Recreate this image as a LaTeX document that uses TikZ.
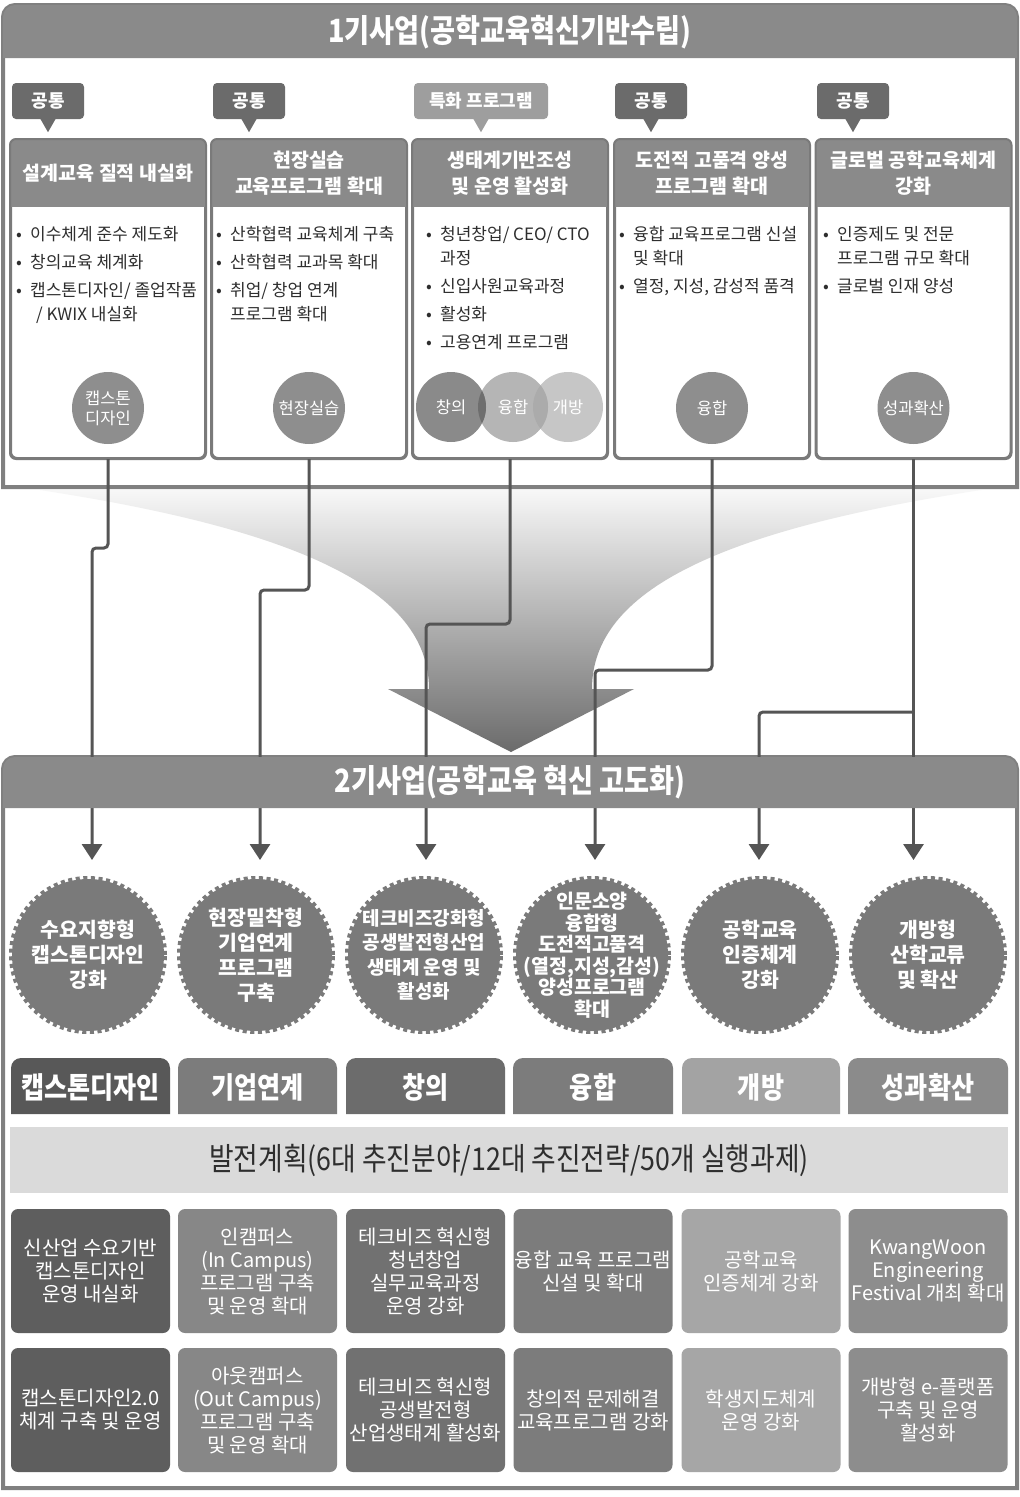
\documentclass[tikz,border=0pt]{standalone}
\usepackage{fontspec}
\setmainfont{Noto Sans CJK KR}
\newfontfamily\condf[FakeStretch=0.85]{Noto Sans CJK KR}
\usetikzlibrary{arrows.meta}

\definecolor{panelc}{HTML}{808080}
\definecolor{barc}{HTML}{8A8A8A}
\definecolor{tagc}{HTML}{6B6B6B}
\definecolor{tagl}{HTML}{9E9E9E}
\definecolor{hdrc}{HTML}{8A8A8A}
\definecolor{boxline}{HTML}{7A7A7A}
\definecolor{textc}{HTML}{2E2E2E}
\definecolor{circc}{HTML}{8E8E8E}
\definecolor{connc}{HTML}{555555}
\definecolor{stampc}{HTML}{7A7A7A}
\definecolor{vA}{HTML}{8A8A8A}
\definecolor{vB}{HTML}{B5B5B5}
\definecolor{vC}{HTML}{C6C6C6}
\definecolor{vAB}{HTML}{6E6E6E}
\definecolor{vBC}{HTML}{ABABAB}
\definecolor{tA}{HTML}{585858}
\definecolor{tB}{HTML}{7C7C7C}
\definecolor{tC}{HTML}{6C6C6C}
\definecolor{tD}{HTML}{7C7C7C}
\definecolor{tE}{HTML}{A3A3A3}
\definecolor{tF}{HTML}{8B8B8B}
\definecolor{pA}{HTML}{5E5E5E}
\definecolor{pB}{HTML}{878787}
\definecolor{pC}{HTML}{717171}
\definecolor{pD}{HTML}{7C7C7C}
\definecolor{pE}{HTML}{A6A6A6}
\definecolor{pF}{HTML}{8D8D8D}
\definecolor{bannerc}{HTML}{DADADA}

% top-rounded rectangle: x1, ytop, x2, ybottom, radius, options
\newcommand\toprect[6]{%
  \path[#6] (#1,#4) -- (#1,{#2+#5}) .. controls (#1,{#2+0.45*#5}) and ({#1+0.45*#5},#2) .. ({#1+#5},#2)
   -- ({#3-#5},#2) .. controls ({#3-0.45*#5},#2) and (#3,{#2+0.45*#5}) .. (#3,{#2+#5}) -- (#3,#4) -- cycle;}
\newcommand\bl{\makebox[14pt][l]{•}}
\newcommand\ind{\hspace*{14pt}}

\begin{document}
\begin{tikzpicture}[x=1pt,y=-1pt,
  colbox/.style={draw=boxline, line width=2pt, fill=white, rounded corners=6pt, inner sep=0,
     minimum width=194pt, minimum height=318pt},
  hdrtext/.style={text=white, font=\bfseries\fontsize{19.5}{26}\selectfont, align=center},
  bul/.style={text=textc, font=\fontsize{17}{24}\selectfont, align=left, inner sep=0, anchor=north west},
  tagbox/.style={fill=tagc, rounded corners=4pt, text=white, font=\bfseries\fontsize{18}{20}\selectfont,
     minimum height=36pt, minimum width=72pt, inner sep=0},
  smallcirc/.style={circle, fill=circc, minimum size=72pt, inner sep=0, text=white,
     font=\fontsize{16.5}{20}\selectfont, align=center},
  vcirc/.style={circle, minimum size=70pt, inner sep=0},
  vtext/.style={text=white, font=\fontsize{16.5}{20}\selectfont},
  stamp/.style={circle, fill=stampc, draw=stampc, line width=6pt, dash pattern=on 4pt off 3.5pt,
     minimum size=152pt, inner sep=0},
  stamptext/.style={text=white, font=\bfseries\fontsize{20.5}{25}\selectfont, align=center},
  conn/.style={draw=connc, line width=3pt, rounded corners=4pt, -{Triangle[width=20pt,length=16pt]}},
  bartext/.style={text=white, font=\condf\bfseries\fontsize{32}{34}\selectfont},
  tabtext/.style={text=white, font=\condf\bfseries\fontsize{29.5}{32}\selectfont},
  plan/.style={rounded corners=7pt, minimum width=159pt, minimum height=124pt, text=white,
     font=\fontsize{20}{23}\selectfont, align=center, inner sep=0}
]
\useasboundingbox (0,0) rectangle (1020,1497);
\fill[white] (0,0) rectangle (1020,1497);

% ---------- panel 1 ----------
\toprect{3}{5}{1017}{487}{12}{fill=white, draw=panelc, line width=4pt}
\toprect{3}{5}{1017}{58}{12}{fill=barc}
\node[bartext] (title1) at (510,32) {1기사업(공학교육혁신기반수립)};

% tags
\node[tagbox] (tg1) at (48,101) {공통};
\node[tagbox] (tg2) at (249,101) {공통};
\node[tagbox, fill=tagl, minimum width=134pt] (tg3) at (481,101) {특화 프로그램};
\node[tagbox] (tg4) at (651,101) {공통};
\node[tagbox] (tg5) at (853,101) {공통};
\foreach \t/\c in {tg1/tagc,tg2/tagc,tg3/tagl,tg4/tagc,tg5/tagc}
  \fill[\c] ([xshift=-8pt,yshift=1pt]\t.south) -- ([xshift=8pt,yshift=1pt]\t.south) -- ([yshift=-13pt]\t.south) -- cycle;

% column boxes
\foreach \n/\x in {col1/108, col2/309, col3/510, col4/712, col5/913.5}{
  \node[colbox] (\n) at (\x,299) {};
  \begin{scope}
    \clip[rounded corners=6pt] (\n.south west) rectangle (\n.north east);
    \fill[hdrc] (\n.north west) rectangle ([yshift=-68pt]\n.north east);
  \end{scope}
  \draw[draw=boxline, line width=2pt, rounded corners=6pt] (\n.south west) rectangle (\n.north east);
}
\node[hdrtext] (h1) at ([yshift=-34pt]col1.north) {설계교육 질적 내실화};
\node[hdrtext] (h2) at ([yshift=-34pt]col2.north) {현장실습\\교육프로그램 확대};
\node[hdrtext] (h3) at ([yshift=-34pt]col3.north) {생태계기반조성\\및 운영 활성화};
\node[hdrtext] (h4) at ([yshift=-34pt]col4.north) {도전적 고품격 양성\\프로그램 확대};
\node[hdrtext] (h5) at ([yshift=-34pt]col5.north) {글로벌 공학교육체계\\강화};

\node[bul] (b1) at (16,226) {\bl 이수체계 준수 제도화\\[4pt]\bl 창의교육 체계화\\[4pt]\bl 캡스톤디자인/ 졸업작품\\\ind\hspace*{6pt}/ KWIX 내실화};
\node[bul] (b2) at (216,226) {\bl 산학협력 교육체계 구축\\[4pt]\bl 산학협력 교과목 확대\\[4pt]\bl 취업/ 창업 연계\\\ind 프로그램 확대};
\node[bul] (b3) at (426,226) {\bl 청년창업/ CEO/ CTO\\\ind 과정\\[4pt]\bl 신입사원교육과정\\[4pt]\bl 활성화\\[4pt]\bl 고용연계 프로그램};
\node[bul] (b4) at (619,226) {\bl 융합 교육프로그램 신설\\\ind 및 확대\\[4pt]\bl 열정, 지성, 감성적 품격};
\node[bul] (b5) at (823,226) {\bl 인증제도 및 전문\\\ind 프로그램 규모 확대\\[4pt]\bl 글로벌 인재 양성};

% small circles
\node[smallcirc] (k1) at (108,408) {캡스톤\\디자인};
\node[smallcirc] (k2) at (309,408) {현장실습};
\node[smallcirc] (k4) at (712,408) {융합};
\node[smallcirc] (k5) at (913.5,408) {성과확산};
\node[vcirc, fill=vC] (v3) at (568,407) {};
\node[vcirc, fill=vB] (v2) at (513,407) {};
\begin{scope}\clip (568,407) circle[radius=35]; \fill[vBC] (513,407) circle[radius=35];\end{scope}
\node[vcirc, fill=vA] (v1) at (451,407) {};
\begin{scope}\clip (451,407) circle[radius=35]; \fill[vAB] (513,407) circle[radius=35];\end{scope}
\node[vtext] (vt1) at (v1) {창의};
\node[vtext] (vt2) at (v2) {융합};
\node[vtext] (vt3) at (v3) {개방};

% ---------- panel 2 background ----------
\toprect{3}{757}{1017}{1488}{12}{fill=white, draw=panelc, line width=4pt}

% funnel
\shade[top color=black!3, bottom color=black!58]
  (40,490) .. controls (300,530) and (429,590) .. (429,689) -- (388,689) -- (511,752) -- (634,689)
  -- (592,689) .. controls (592,590) and (721,530) .. (981,490) -- cycle;

% connectors
\coordinate (a1) at (92,860);
\coordinate (a2) at (260,860);
\coordinate (a3) at (426,860);
\coordinate (a4) at (595,860);
\coordinate (a5) at (759,860);
\coordinate (a6) at (913.5,860);
\coordinate (b5) at (913.5,712);
\draw[conn] (col1.south) |- (92,548) -- (a1);
\draw[conn] (col2.south) |- (260,590) -- (a2);
\draw[conn] (col3.south) |- (426,624) -- (a3);
\draw[conn] (col4.south) |- (595,670) -- (a4);
\draw[conn] (col5.south) -- (a6);
\draw[conn] (b5) -| (a5);

% panel 2 title bar
\toprect{3}{757}{1017}{808}{12}{fill=barc}
\node[bartext] (title2) at (510,782) {2기사업(공학교육 혁신 고도화)};

% stamps
\foreach \n/\x in {s1/88, s2/256, s3/424, s4/592, s5/760, s6/928}
  \node[stamp] (\n) at (\x,955) {};
\node[stamptext] (st1) at (s1) {수요지향형\\캡스톤디자인\\강화};
\node[stamptext] (st2) at (s2) {현장밀착형\\기업연계\\프로그램\\구축};
\node[stamptext, font=\bfseries\fontsize{19}{24.5}\selectfont] (st3) at (s3) {테크비즈강화형\\공생발전형산업\\생태계 운영 및\\활성화};
\node[stamptext, font=\bfseries\fontsize{19.5}{21.5}\selectfont] (st4) at (s4) {인문소양\\융합형\\도전적고품격\\(열정,지성,감성)\\양성프로그램\\확대};
\node[stamptext] (st5) at (s5) {공학교육\\인증체계\\강화};
\node[stamptext] (st6) at (s6) {개방형\\산학교류\\및 확산};

% tabs
\toprect{11}{1058}{170}{1114}{10}{fill=tA}
\toprect{178}{1058}{337}{1114}{10}{fill=tB}
\toprect{346}{1058}{505}{1114}{10}{fill=tC}
\toprect{513}{1058}{673}{1114}{10}{fill=tD}
\toprect{682}{1058}{840}{1114}{10}{fill=tE}
\toprect{848}{1058}{1008}{1114}{10}{fill=tF}
\node[tabtext] (tab1) at (90.5,1087) {캡스톤디자인};
\node[tabtext] (tab2) at (257.5,1087) {기업연계};
\node[tabtext] (tab3) at (425.5,1087) {창의};
\node[tabtext] (tab4) at (593,1087) {융합};
\node[tabtext] (tab5) at (761,1087) {개방};
\node[tabtext] (tab6) at (928,1087) {성과확산};

% banner
\node[fill=bannerc, minimum width=998pt, minimum height=66pt, inner sep=0, text=textc,
  font=\condf\fontsize{31.5}{34}\selectfont] (banner) at (509,1160) {발전계획(6대 추진분야/12대 추진전략/50개 실행과제)};

% plan boxes
\node[plan, fill=pA] (p11) at (90.5,1271) {신산업 수요기반\\캡스톤디자인\\운영 내실화};
\node[plan, fill=pB] (p12) at (257.5,1271) {인캠퍼스\\(In Campus)\\프로그램 구축\\및 운영 확대};
\node[plan, fill=pC] (p13) at (425.5,1271) {테크비즈 혁신형\\청년창업\\실무교육과정\\운영 강화};
\node[plan, fill=pD] (p14) at (593,1271) {융합 교육 프로그램\\신설 및 확대};
\node[plan, fill=pE] (p15) at (761,1271) {공학교육\\인증체계 강화};
\node[plan, fill=pF] (p16) at (928,1271) {KwangWoon\\Engineering\\Festival 개최 확대};
\node[plan, fill=pA] (p21) at (90.5,1410) {캡스톤디자인2.0\\체계 구축 및 운영};
\node[plan, fill=pB] (p22) at (257.5,1410) {아웃캠퍼스\\(Out Campus)\\프로그램 구축\\및 운영 확대};
\node[plan, fill=pC] (p23) at (425.5,1410) {테크비즈 혁신형\\공생발전형\\산업생태계 활성화};
\node[plan, fill=pD] (p24) at (593,1410) {창의적 문제해결\\교육프로그램 강화};
\node[plan, fill=pE] (p25) at (761,1410) {학생지도체계\\운영 강화};
\node[plan, fill=pF] (p26) at (928,1410) {개방형 e-플랫폼\\구축 및 운영\\활성화};
\end{tikzpicture}
\end{document}
